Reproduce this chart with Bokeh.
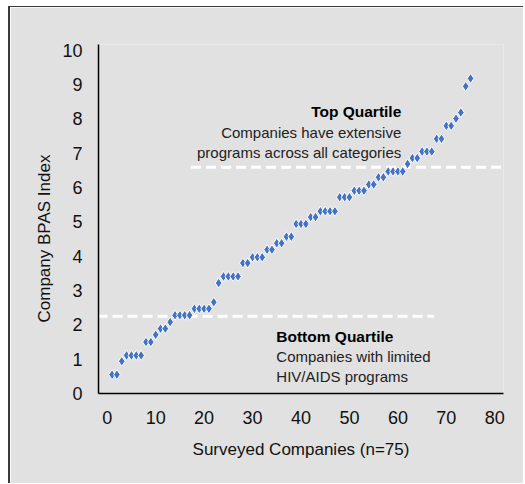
from bokeh.plotting import figure
from bokeh.models import FixedTicker, Label, ColumnDataSource, Title
from bokeh.embed import file_html
from bokeh.resources import INLINE

# Data: surveyed companies (index) vs BPAS index
company = list(range(1, 76))
bpas = [0.55, 0.55, 0.94, 1.11, 1.11, 1.11, 1.11, 1.50, 1.50, 1.71,
        1.89, 1.89, 2.08, 2.28, 2.28, 2.28, 2.28, 2.47, 2.47, 2.47,
        2.47, 2.66, 3.22, 3.41, 3.41, 3.41, 3.41, 3.80, 3.80, 3.97,
        3.97, 3.97, 4.19, 4.19, 4.38, 4.38, 4.57, 4.57, 4.94, 4.94,
        4.94, 5.14, 5.14, 5.31, 5.31, 5.31, 5.31, 5.72, 5.72, 5.72,
        5.91, 5.91, 5.91, 6.09, 6.09, 6.30, 6.30, 6.47, 6.47, 6.47,
        6.47, 6.69, 6.86, 6.86, 7.05, 7.05, 7.05, 7.42, 7.42, 7.80,
        7.80, 8.01, 8.19, 8.95, 9.18]

x_ticks = [0, 10, 20, 30, 40, 50, 60, 70, 80]
y_ticks = [0, 1, 2, 3, 4, 5, 6, 7, 8, 9, 10]

top_quartile_x = [17.3, 82.0]
top_quartile_y = [6.59, 6.59]
bottom_quartile_x = [-2.0, 67.5]
bottom_quartile_y = [2.25, 2.25]

BG = "#e1e1e1"
FONT = "Liberation Sans"

p = figure(width=515, height=477, output_backend="svg", toolbar_location=None,
           x_range=(-1.8, 81.8), y_range=(0, 10.17),
           min_border_left=88, min_border_right=22, min_border_top=37, min_border_bottom=91)
p.margin = (6, 0, 0, 8)
p.styles = {"border-left": "2px solid #3a3a3a", "border-top": "1px solid #3a3a3a"}
p.background_fill_color = BG
p.border_fill_color = BG
p.outline_line_color = None
p.grid.visible = False

p.xaxis.ticker = FixedTicker(ticks=x_ticks)
p.yaxis.ticker = FixedTicker(ticks=y_ticks)
for ax in (p.xaxis[0], p.yaxis[0]):
    ax.major_tick_line_color = None
    ax.minor_tick_line_color = None
    ax.axis_line_color = "#000000"
    ax.axis_line_width = 1.5
    ax.major_label_text_font = FONT
    ax.major_label_text_font_size = "18px"
    ax.major_label_text_color = "#111111"
    ax.axis_label_text_font = FONT
    ax.axis_label_text_font_size = "17px"
    ax.axis_label_text_font_style = "normal"
    ax.axis_label_text_color = "#111111"

p.xaxis.axis_label = "Surveyed Companies (n=75)"
p.xaxis.major_label_standoff = 11
p.yaxis.major_label_standoff = 10
p.xaxis.axis_label_standoff = 13

# y-axis title, placed like the original (starts ~71px above the x axis)
p.add_layout(Title(text="Company BPAS Index", align="left", offset=71,
                   text_font=FONT, text_font_size="17px", text_font_style="normal",
                   text_color="#111111", standoff=12), "left")

p.line(top_quartile_x, top_quartile_y, line_color="white", line_width=3, line_dash="10 5")
p.line(bottom_quartile_x, bottom_quartile_y, line_color="white", line_width=3, line_dash="10 5")

src = ColumnDataSource(dict(x=company, y=bpas))
p.scatter("x", "y", source=src, marker="diamond", size=10,
          fill_color="#4472C4", line_color="white", line_width=1)

def lab(x, y, t, bold=False, align="left"):
    p.add_layout(Label(x=x, y=y, text=t, text_font=FONT,
                       text_font_size="15.5px" if bold else "15px",
                       text_font_style="bold" if bold else "normal",
                       text_color="#000000" if bold else "#222222",
                       text_align=align, text_baseline="middle"))

lab(60.7, 8.21, "Top Quartile", bold=True, align="right")
lab(60.7, 7.60, "Companies have extensive", align="right")
lab(60.7, 7.01, "programs across all categories", align="right")
lab(34.9, 1.67, "Bottom Quartile", bold=True)
lab(34.9, 1.08, "Companies with limited")
lab(34.9, 0.49, "HIV/AIDS programs")

open("out.html", "w").write(file_html(p, INLINE))
